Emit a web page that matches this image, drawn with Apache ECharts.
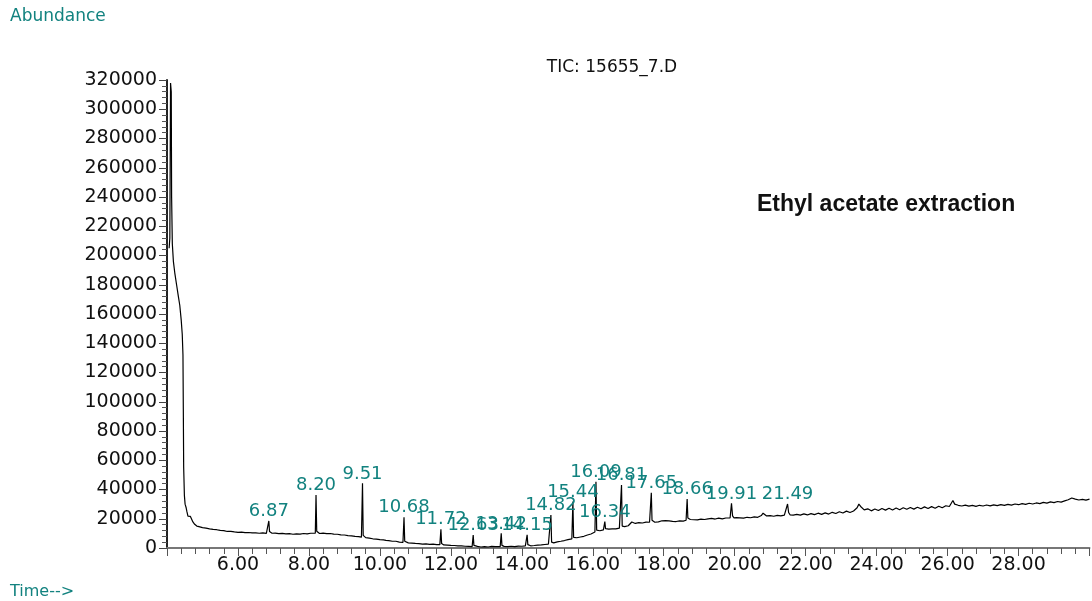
<!DOCTYPE html>
<html>
<head>
<meta charset="utf-8">
<script src="https://cdn.jsdelivr.net/npm/echarts@6/dist/echarts.min.js"></script>
<style>
html,body{margin:0;padding:0;background:#fff;}
#chart{width:1092px;height:601px;}
</style>
</head>
<body>
<div id="chart"></div>
<script>
// ---- data ----
const yAxisTicks = [0, 20000, 40000, 60000, 80000, 100000, 120000, 140000, 160000, 180000, 200000, 220000, 240000, 260000, 280000, 300000, 320000];
const xAxisTicks = [6, 8, 10, 12, 14, 16, 18, 20, 22, 24, 26, 28];

// labelled peaks: retention time (min) and apex abundance
const peakTimes = [6.87, 8.20, 9.51, 10.68, 11.72, 12.63, 13.42, 14.15, 14.82, 15.44, 16.09, 16.34, 16.81, 17.65, 18.66, 19.91, 21.49];
const peakApex  = [18500, 36200, 44200, 21000, 12800, 8900, 10000, 9000, 22600, 31700, 45300, 18000, 43100, 37800, 33500, 30500, 30100];

// total ion chromatogram trace [time, abundance]
const trace = [
[4.06,205000],[4.08,212000],[4.10,318000],[4.12,312000],[4.13,240000],[4.15,208000],[4.18,196000],[4.22,188000],
[4.27,180000],[4.32,172000],[4.36,166000],[4.40,156000],[4.43,146000],[4.45,132000],[4.46,95000],[4.47,55000],
[4.49,36000],[4.51,30000],[4.54,27500],[4.56,25000],[4.59,21800],[4.63,20500],[4.66,21600],[4.69,20800],
[4.73,17800],[4.78,16200],[4.84,15000],[4.90,14600],[5.00,13900],
[5.05,14200],[5.1,13600],[5.15,13900],[5.2,13100],[5.25,13400],[5.3,12700],[5.35,12900],[5.4,12500],[5.45,12300],[5.5,12000],[5.55,12300],[5.6,11900],[5.65,11600],[5.7,11300],[5.75,11700],[5.8,11400],[5.85,11100],[5.9,11000],
[5.95,11200],[6.0,10700],[6.05,11000],[6.1,10900],[6.15,10600],[6.2,10500],[6.25,10800],[6.3,10600],[6.35,10300],[6.4,10300],[6.45,10600],[6.5,10400],[6.55,10200],[6.6,10100],[6.65,10400],[6.7,10300],[6.75,10000],[6.8,10000],
[6.84,10100],[6.87,18500],[6.89,11200],[6.92,10300],
[6.96,10100],[7.0,9900],[7.05,10200],[7.1,10100],[7.15,9800],[7.2,9700],[7.25,10000],[7.3,9900],[7.35,9600],[7.4,9500],[7.45,9800],[7.5,9700],[7.55,9400],[7.6,9400],[7.65,9700],[7.7,9800],[7.75,9500],[7.8,9600],[7.85,9900],[7.9,9900],[7.95,9600],
[8.0,9700],[8.05,10100],[8.1,10000],[8.18,10100],[8.20,36200],[8.22,11500],[8.25,10200],
[8.3,9900],[8.35,10300],[8.4,10200],[8.45,9900],[8.5,9800],[8.55,10100],[8.6,9900],[8.65,9600],[8.7,9500],[8.75,9700],[8.8,9400],[8.85,9100],[8.9,9000],[8.95,9200],[9.0,8900],[9.05,8600],[9.1,8500],[9.15,8700],[9.2,8300],
[9.25,8000],[9.3,7900],[9.35,8100],[9.4,7800],[9.48,7400],[9.51,44200],[9.53,8600],[9.56,7300],
[9.6,7100],[9.65,7300],[9.7,6800],[9.75,6600],[9.8,6300],[9.85,6500],[9.9,6100],[9.95,5800],[10.0,5700],[10.05,5900],[10.1,5500],[10.17,5200],[10.19,6300],[10.21,5000],
[10.25,5100],[10.3,4800],[10.35,4600],[10.4,4400],[10.45,4600],[10.5,4300],[10.55,4000],[10.6,3900],[10.65,3800],[10.68,21000],[10.70,4600],[10.73,3700],
[10.8,3500],[10.85,3700],[10.9,3300],[10.95,3200],[11.0,3100],[11.05,3300],[11.1,3000],[11.15,2800],[11.2,2700],[11.25,2900],[11.3,2800],[11.35,2500],[11.4,2500],[11.45,2700],[11.5,2600],[11.55,2300],[11.6,2300],
[11.69,2300],[11.72,12800],[11.74,3000],[11.77,2200],
[11.8,2100],[11.85,2300],[11.9,2000],[11.95,1900],[12.0,1800],[12.05,2000],[12.1,1700],[12.15,1500],[12.2,1500],[12.25,1700],[12.3,1400],[12.35,1200],[12.4,1200],[12.45,1400],[12.5,1100],
[12.60,1000],[12.63,8900],[12.65,1800],[12.68,1000],
[12.7,900],[12.75,1100],[12.8,1000],[12.85,700],[12.9,800],[12.95,1000],[13.0,900],[13.05,700],[13.1,1000],[13.15,1100],[13.2,800],[13.25,900],[13.3,1000],
[13.39,900],[13.42,10000],[13.44,1800],[13.47,1000],
[13.5,1100],[13.55,800],[13.6,900],[13.65,1200],[13.7,1200],[13.75,900],[13.8,1000],[13.85,1300],[13.9,1300],[13.95,1000],[14.0,1200],[14.05,1500],[14.1,1400],
[14.12,1400],[14.15,9000],[14.17,2300],[14.20,1600],
[14.25,1500],[14.3,1900],[14.35,1700],[14.4,2700],[14.45,2000],[14.5,2300],[14.55,2100],[14.6,2500],[14.65,2400],[14.7,2900],[14.75,2700],
[14.79,3000],[14.82,22600],[14.84,4000],[14.87,3300],
[14.9,3500],[14.95,3900],[15.0,4200],[15.05,4100],[15.1,4600],[15.15,4500],[15.2,5100],[15.25,5000],[15.3,5700],[15.35,5600],
[15.41,6200],[15.44,31700],[15.46,7300],[15.49,6700],
[15.5,6900],[15.55,7000],[15.6,7600],[15.65,7500],[15.7,8200],[15.75,8000],[15.8,8700],[15.85,8900],[15.9,9600],[15.95,9600],[16.0,10400],
[16.06,10900],[16.09,45300],[16.11,12200],[16.14,11600],
[16.2,11800],[16.25,11500],[16.3,12400],[16.32,12500],[16.34,18000],[16.36,13200],[16.39,12600],
[16.45,12900],[16.5,14200],[16.55,13100],[16.6,13400],[16.65,13100],[16.7,13900],[16.75,13600],
[16.78,13900],[16.81,43100],[16.83,15000],[16.86,14300],
[16.9,14600],[16.95,14400],[17.0,15200],[17.05,15800],[17.1,17800],[17.15,16600],[17.2,16800],[17.25,16500],[17.3,17300],[17.35,16900],[17.4,17100],
[17.45,17500],[17.5,17700],[17.55,17300],[17.6,17600],[17.62,17800],[17.65,37800],[17.67,19000],[17.70,17900],
[17.75,17600],[17.8,17400],[17.85,17900],[17.9,17800],[17.95,18600],[18.0,19500],[18.05,18700],[18.1,18200],[18.15,18500],[18.2,17900],[18.25,18200],[18.3,18500],[18.35,18100],[18.4,18200],[18.45,18600],[18.5,18700],[18.55,18400],[18.6,18900],
[18.63,19000],[18.66,33500],[18.68,20500],[18.71,19300],
[18.75,19500],[18.8,19100],[18.85,19300],[18.9,19600],[18.95,19200],[19.0,19300],[19.05,19700],[19.1,19900],[19.15,19500],[19.2,20400],[19.25,19900],[19.3,19800],[19.35,20200],[19.4,20200],[19.45,19800],[19.5,19900],
[19.55,20400],[19.6,20300],[19.65,19900],[19.7,20100],[19.75,20500],[19.8,20400],[19.87,20500],[19.91,30500],[19.94,22000],[19.98,20600],
[20.05,20800],[20.1,20300],[20.15,20600],[20.2,20800],[20.25,20400],[20.3,20500],[20.35,21000],[20.4,21100],[20.45,20700],[20.5,20800],[20.55,21300],[20.6,21300],[20.65,21000],[20.7,21500],[20.75,22200],[20.8,23800],
[20.85,22600],[20.9,21900],[20.95,22300],[21.0,22100],[21.05,21600],[21.1,21700],[21.15,22200],[21.2,22300],[21.25,21900],[21.3,22000],[21.35,22600],[21.4,22500],
[21.45,22600],[21.49,30100],[21.52,24300],[21.56,22700],
[21.6,22900],[21.65,22500],[21.7,22400],[21.75,23000],[21.8,23100],[21.85,22500],[21.9,22600],[21.95,23300],[22.0,23200],[22.05,22600],[22.1,22700],[22.15,23500],[22.2,23400],[22.25,22800],[22.3,22900],
[22.35,23800],[22.4,23700],[22.45,23000],[22.5,23100],[22.55,24000],[22.6,23900],[22.65,23200],[22.7,23300],[22.75,24400],[22.8,24300],[22.85,23600],[22.9,23800],[22.95,24800],[23.0,24600],[23.05,23900],[23.1,24100],
[23.15,25200],[23.2,25000],[23.25,24300],[23.3,24500],[23.35,25300],[23.4,25800],[23.45,27500],[23.5,30000],[23.55,28400],[23.6,27200],[23.65,26100],[23.7,25900],[23.75,26800],[23.8,26300],[23.85,25400],[23.9,25600],
[23.95,26700],[24.0,26400],[24.05,25600],[24.1,25900],[24.15,27000],[24.2,26700],[24.25,25900],[24.3,26100],[24.35,27200],[24.4,26800],[24.45,26000],[24.5,26300],[24.55,27300],[24.6,27000],[24.65,26200],[24.7,26400],
[24.75,27500],[24.8,27200],[24.85,26500],[24.9,26700],[24.95,27700],[25.0,27300],[25.05,26600],[25.1,26900],[25.15,27900],[25.2,27600],[25.25,26800],[25.3,27000],[25.35,28100],[25.4,27800],[25.45,27000],[25.5,27300],
[25.55,28300],[25.6,28000],[25.65,27200],[25.7,27500],[25.75,28600],[25.8,28300],[25.85,27500],[25.9,27800],[25.95,28900],[26.0,28600],[26.05,28400],[26.1,29500],[26.15,32500],[26.2,30000],
[26.25,29600],[26.3,29200],[26.35,28400],[26.4,28700],[26.45,29700],[26.5,29300],[26.55,28400],[26.6,28600],[26.65,29600],[26.7,29100],[26.75,28300],[26.8,28500],[26.85,29600],[26.9,29200],[26.95,28400],[27.0,28700],
[27.05,29700],[27.1,29400],[27.15,28500],[27.2,28800],[27.25,29900],[27.3,29500],[27.35,28700],[27.4,29000],[27.45,30100],[27.5,29700],[27.55,28800],[27.6,29100],[27.65,30200],[27.7,29800],[27.75,29000],[27.8,29300],
[27.85,30500],[27.9,30100],[27.95,29300],[28.0,29600],[28.05,30700],[28.1,30300],[28.15,29500],[28.2,29800],[28.25,31000],[28.3,30600],[28.35,29800],[28.4,30100],[28.45,31200],[28.5,30800],[28.55,30000],[28.6,30300],
[28.65,31600],[28.7,31200],[28.75,30400],[28.8,30700],[28.85,31900],[28.9,31500],[28.95,30700],[29.0,31000],[29.05,32200],[29.1,31800],[29.15,31000],[29.2,31400],[29.25,32600],[29.3,32200],[29.35,32400],[29.4,33000],
[29.45,33600],[29.5,34200],[29.55,33900],[29.6,33400],[29.65,32700],[29.7,32800],[29.75,33700],[29.8,33300],[29.85,32500],[29.9,32700],[29.95,33600],[30.0,33400]
];

// ---- chart ----
const teal = '#12827f';
const axisFont = '"DejaVu Sans", sans-serif';
const peakData = peakTimes.map((t, i) => [t, peakApex[i]]);

const chart = echarts.init(document.getElementById('chart'), null, {renderer: 'canvas'});
chart.setOption({
  animation: false,
  backgroundColor: '#ffffff',
  grid: {left: 167, right: 2.5, top: 80, bottom: 53, outerBoundsMode: 'none', containLabel: false},
  xAxis: {
    type: 'value',
    min: 4, max: 30, interval: 2,
    axisLine: {show: true, onZero: false, lineStyle: {color: '#777', width: 2}},
    axisTick: {show: true, length: 8, lineStyle: {color: '#555', width: 1}},
    minorTick: {show: true, splitNumber: 5, length: 6, lineStyle: {color: '#555', width: 1}},
    splitLine: {show: false},
    axisLabel: {
      showMinLabel: false, showMaxLabel: false,
      color: '#111', fontFamily: axisFont, fontSize: 19, margin: 8,
      formatter: v => (xAxisTicks.indexOf(v) >= 0 ? v.toFixed(2) : '')
    }
  },
  yAxis: {
    type: 'value',
    min: yAxisTicks[0], max: yAxisTicks[yAxisTicks.length - 1], interval: 20000,
    axisLine: {show: true, lineStyle: {color: '#222', width: 2}},
    axisTick: {show: true, length: 8, lineStyle: {color: '#444', width: 1}},
    minorTick: {show: true, splitNumber: 5, length: 5, lineStyle: {color: '#555', width: 1}},
    splitLine: {show: false},
    axisLabel: {color: '#111', fontFamily: axisFont, fontSize: 19, margin: 10,
      formatter: v => String(v)}
  },
  series: [
    {
      type: 'line',
      data: trace,
      symbol: 'none',
      clip: true,
      lineStyle: {color: '#000', width: 1.2},
      z: 3
    },
    {
      type: 'scatter',
      data: peakData,
      symbolSize: 1,
      itemStyle: {color: 'rgba(0,0,0,0)'},
      silent: true,
      label: {
        show: true,
        position: 'top',
        distance: 0,
        offset: [7, 1],
        color: teal,
        opacity: 1,
        fontFamily: axisFont,
        fontSize: 18,
        formatter: p => p.value[0].toFixed(2)
      },
      labelLayout: {hideOverlap: false},
      z: 4
    }
  ],
  graphic: [
    {type: 'text', x: 10, y: 17, style: {text: 'Abundance', fill: teal, font: '17px "DejaVu Sans"', verticalAlign: 'middle', align: 'left'}},
    {type: 'text', x: 10, y: 592, style: {text: 'Time-->', fill: teal, font: '16px "DejaVu Sans"', verticalAlign: 'middle', align: 'left'}},
    {type: 'text', x: 612, y: 68, style: {text: 'TIC: 15655_7.D', fill: '#111', font: '17px "DejaVu Sans"', verticalAlign: 'middle', align: 'center'}},
    {type: 'text', x: 757, y: 205, style: {text: 'Ethyl acetate extraction', fill: '#111', font: 'bold 23px "Liberation Sans"', verticalAlign: 'middle', align: 'left'}}
  ]
});
</script>
</body>
</html>
